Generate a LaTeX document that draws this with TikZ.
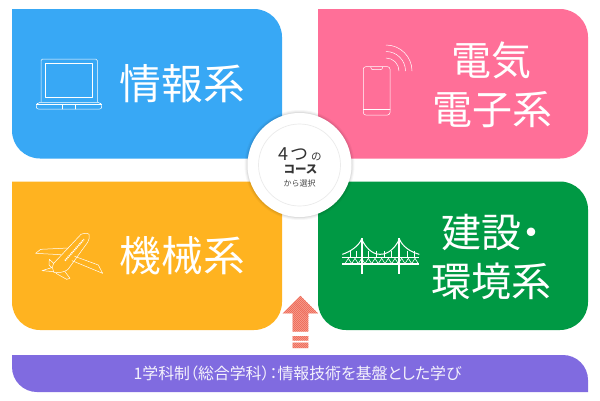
\documentclass[tikz,border=0pt]{standalone}
\usepackage{fontspec}
\setmainfont{Noto Sans CJK JP}
\newfontfamily\paltf[RawFeature=+palt]{Noto Sans CJK JP}
\definecolor{cblue}{HTML}{38A8F5}
\definecolor{cpink}{HTML}{FF6F98}
\definecolor{corange}{HTML}{FFB320}
\definecolor{cgreen}{HTML}{009944}
\definecolor{cpurple}{HTML}{806BE0}
\definecolor{carrowa}{HTML}{FCB5A6}
\definecolor{carrowb}{HTML}{EE6F5D}
\definecolor{ctext}{HTML}{333333}
\tikzset{
  big/.style={text=white,align=center,inner sep=0pt,font=\fontsize{40}{50}\selectfont},
  icon/.style={draw=white,line width=0.5pt,line join=round,line cap=round},
}
\begin{document}
\begin{tikzpicture}[x=1pt,y=-1pt]
\useasboundingbox (0,0) rectangle (600,400);
\fill[white] (0,0) rectangle (600,400);
% panels
\fill[cblue] (12,9) -- (254,9) arc[start angle=90,end angle=0,radius=28pt] -- (282,158.5) -- (40,158.5) arc[start angle=270,end angle=180,radius=28pt] -- cycle;
\fill[cpink] (318,9) -- (560,9) arc[start angle=90,end angle=0,radius=28pt] -- (588,130.5) arc[start angle=0,end angle=-90,radius=28pt] -- (318,158.5) -- cycle;
\fill[corange] (12,181.5) -- (282,181.5) -- (282,302) arc[start angle=0,end angle=-90,radius=28pt] -- (40,330) arc[start angle=270,end angle=180,radius=28pt] -- cycle;
\fill[cgreen] (346,181.5) -- (560,181.5) arc[start angle=90,end angle=0,radius=28pt] -- (588,302) arc[start angle=0,end angle=-90,radius=28pt] -- (346,330) arc[start angle=270,end angle=180,radius=28pt] -- (318,209.5) arc[start angle=180,end angle=90,radius=28pt] -- cycle;
\fill[cpurple] (12,355) -- (563,355) arc[start angle=90,end angle=0,radius=25pt] -- (588,392) -- (37,392) arc[start angle=270,end angle=180,radius=25pt] -- cycle;
% arrow
\begin{scope}
\clip (300.3,295.7) -- (318,313.3) -- (308.3,313.3) -- (308.3,331.7) -- (292.7,331.7) -- (292.7,313.3) -- (282.7,313.3) -- cycle
  (292.7,336) rectangle (308.3,340.7)
  (292.7,342.5) rectangle (308.3,348);
\fill[carrowa] (280,290) rectangle (320,350);
\foreach \i in {0,2,...,60}{
  \draw[carrowb,line width=0.8pt] (280,288+\i) -- (322,330+\i);
  \draw[carrowb,line width=0.8pt] (280,288-\i) -- (322,330-\i);
}
\end{scope}
% centre circle
\foreach \r/\o in {55/0.03,54/0.04,53/0.06}{
  \fill[black,opacity=\o] (299.5,165) circle[radius=\r pt];
}
\fill[white] (299.5,165) circle[radius=52pt];
\draw[black!8,line width=0.7pt] (299.5,165) circle[radius=41pt];
\node[text=ctext,inner sep=0pt,anchor=mid] (four) at (300,158) {\fontsize{18}{18}\selectfont 4\kern2pt つ\kern3pt\fontsize{10.5}{11}\selectfont の};
\node[text=ctext,inner sep=0pt,font=\bfseries\fontsize{11.5}{12}\selectfont] (course) at (300.5,169) {コース};
\node[text=ctext!90,inner sep=0pt,font=\fontsize{8}{9}\selectfont] (select) at (299.5,183) {から選択};
% labels
\node[big,font=\fontsize{41.7}{50}\selectfont] (info) at (182.5,84) {情報系};
\node[big,font=\fontsize{41.7}{50}\selectfont] (mech) at (182.5,256) {機械系};
\node[big] (elec1) at (491.5,60) {電気};
\node[big] (elec2) at (492,110) {電子系};
\node[big,font=\paltf\fontsize{40}{50}\selectfont] (cons1) at (491,232) {建設・};
\node[big] (cons2) at (491.5,281) {環境系};
\node[text=white!92!cpurple,inner sep=0pt,font=\paltf\fontsize{15.9}{17}\selectfont] (bar) at (297.5,373) {1学科制（総合学科）：情報技術を基盤とした学び};
% laptop
\begin{scope}[icon]
\draw[rounded corners=1.5pt] (41,102) -- (41,59) -- (97.3,59) -- (97.3,102);
\draw (45.3,63.3) rectangle (92.7,97.3);
\draw[rounded corners=2pt] (38,102.3) -- (100,102.3) -- (101.7,105) -- (101.7,109) -- (36.3,109) -- (36.3,105) -- cycle;
\draw (36.3,104.5) -- (101.7,104.5);
\draw (62.3,105) -- (62.3,109) (75.7,105) -- (75.7,109);
\end{scope}
% phone
\begin{scope}[icon]
\draw[rounded corners=2.5pt] (363.3,66.7) rectangle (390,115);
\draw (370.7,67) .. controls (371.5,69.5) .. (373,69.5) -- (380.5,69.5) .. controls (382,69.5) .. (382.7,67);
\draw (363.3,109.3) -- (390,109.3);
\draw (386,45) arc[start angle=90,end angle=0,radius=26pt];
\draw (386,51.5) arc[start angle=90,end angle=0,radius=19.5pt];
\draw (386,58) arc[start angle=90,end angle=0,radius=13pt];
\end{scope}
% plane
\begin{scope}[icon,shift={(20,220)},x=0.3333pt,y=-0.3333pt]
\draw (183,43) .. controls (192,39) and (204,39) .. (207,43) .. controls (210,50) and (207,60) .. (203,67) -- (150,140) .. controls (145,150) and (135,155) .. (122,157) -- (102,158) .. controls (97,150) and (96,140) .. (101,130) -- cycle;
\draw (145,84) -- (62,88) -- (47,100) -- (122,104);
\draw (164,109) -- (235,135) -- (248,160) -- (156,122);
\draw (101,130) -- (88,118) -- (87,135) -- (95,143) -- (66,152) -- (102,155);
\draw (108,160) -- (140,178) -- (150,175) -- (135,155);
\draw[line width=1.6pt,dash pattern=on 1.2pt off 0.8pt,line cap=butt] (135,122) -- (192,58);
\end{scope}
% bridge
\begin{scope}[shift={(330,225)},x=0.3333pt,y=-0.3333pt]
\draw[white,line width=1.8pt] (95,40) -- (95,148) (208,40) -- (208,148);
\draw[white,line width=1pt] (37,88) .. controls (60,80) and (85,65) .. (95,42) .. controls (105,65) and (125,88) .. (150,88) .. controls (178,88) and (198,65) .. (208,42) .. controls (218,65) and (240,80) .. (268,88);
\draw[white,line width=1pt] (37,98) -- (268,98);
\draw[white,line width=1.8pt] (37,117) -- (268,117);
\foreach \x in {60,78,115,138,162,185,232,252}{
  \draw[white,line width=0.35pt] (\x,78) -- (\x,98);
}
\draw[white,line width=0.6pt] (45,116) -- (55,100) -- (65,116) -- (75,100) -- (85,116) -- (95,100) -- (105,116) -- (115,100) -- (125,116) -- (135,100) -- (145,116) -- (155,100) -- (165,116) -- (175,100) -- (185,116) -- (195,100) -- (205,116) -- (215,100) -- (225,116) -- (235,100) -- (245,116) -- (255,100) -- (265,116);
\end{scope}
\end{tikzpicture}
\end{document}
